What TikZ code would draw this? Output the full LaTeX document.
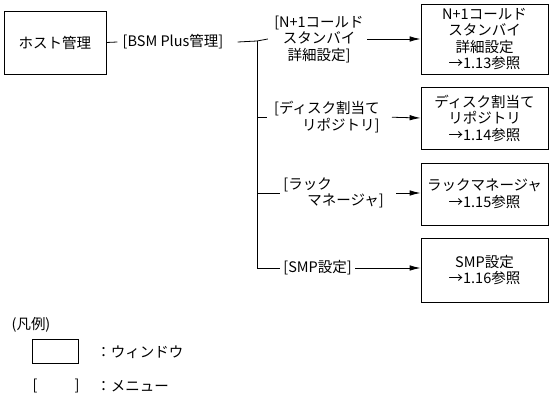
\documentclass[tikz,border=0pt]{standalone}
\usepackage{fontspec}
\setmainfont{Noto Sans CJK JP}
\usetikzlibrary{arrows.meta}
\begin{document}
\begin{tikzpicture}[x=1pt,y=-1pt,
  font=\fontsize{14.5}{16.5}\selectfont,
  line width=0.8pt,
  win/.style={draw, inner sep=0pt, align=center},
  menu/.style={inner sep=3pt},
  arr/.style={-{Latex[length=11pt,width=5.5pt]}}]
\useasboundingbox (0,0) rectangle (550,403);
% windows
\node[win, minimum width=102pt, minimum height=63pt] (host) at (55,42.5) {ホスト管理};
\node[win, minimum width=127pt, minimum height=70pt] (w1) at (484.5,39) {N+1コールド\\スタンバイ\\詳細設定\\→1.13参照};
\node[win, minimum width=127pt, minimum height=62pt] (w2) at (484.5,118) {ディスク割当て\\リポジトリ\\→1.14参照};
\node[win, minimum width=127pt, minimum height=62pt] (w3) at (484.5,194) {ラックマネージャ\\→1.15参照};
\node[win, minimum width=127pt, minimum height=64pt] (w4) at (484.5,270) {SMP設定\\→1.16参照};
% menus
\node[menu] (bsm) at (173,42) {[BSM Plus管理]};
\node[menu, align=center] (m1) at (319,39) {[N+1コールド\\スタンバイ\\詳細設定]};
\node[menu, align=right, anchor=east] (m2) at (383,117) {[ディスク割当て\\リポジトリ]};
\node[menu, align=left, anchor=west] (m3) at (280,193) {[ラック\\\hspace*{24pt}マネージャ]};
\node[menu, anchor=west] (m4) at (280,268) {[SMP設定]};
% trunk
\coordinate (t1) at (257,41);
\coordinate (t2) at (257,117);
\coordinate (t3) at (257,193);
\coordinate (t4) at (257,268);
\draw (host.east) -- ([xshift=-2pt]bsm.west);
\draw ([xshift=11pt]bsm.east) -- (t1) -- ([xshift=-3pt]m1.west);
\draw (t1) -- (t4);
\draw (t2) -- ([xshift=-4pt]m2.west);
\draw (t3) -- (m3.west);
\draw (t4) -- (m4.west);
% arrows
\draw[arr] (m1.east) -- (w1.west);
\draw[arr, shorten <=9pt] (m2.east) -- (w2.west);
\draw[arr, shorten <=9pt] (m3.east |- t3) -- (w3.west |- t3);
\draw[arr] (m4.east) -- (w4.west |- m4.east);
% legend
\node (lg) at (31,325) {(凡例)};
\node[draw, minimum width=46pt, minimum height=24pt, inner sep=0pt] (lbox) at (55,351) {};
\node[anchor=west, inner sep=0pt] (lwin) at (96,352) {：ウィンドウ};
\node[inner sep=0pt] (lbl) at (35,386) {[};
\node[inner sep=0pt] (lbr) at (77,386) {]};
\node[anchor=west, inner sep=0pt] (lmenu) at (96,386) {：メニュー};
\end{tikzpicture}
\end{document}
